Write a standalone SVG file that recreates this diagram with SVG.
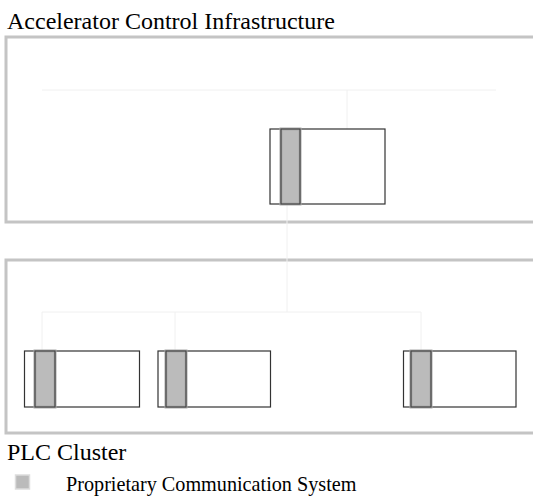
<svg xmlns="http://www.w3.org/2000/svg" width="533" height="502" viewBox="0 0 533 502">
<style>
.lbl{font-family:"Liberation Serif","Times New Roman",serif;font-size:20.2px;fill:#000}
.big{font-size:24px}
.cluster{fill:none;stroke:#c4c4c4;stroke-width:3}
.link{fill:none;stroke:#f0f0f0;stroke-width:1}
.box{fill:#fff;stroke:#333;stroke-width:1.2}
.comm{fill:#bbb;stroke:#aaa;stroke-width:3}
.commin{fill:none;stroke:#444;stroke-width:1.2}
</style>
<rect width="533" height="502" fill="#fff"/>
<g id="cluster-aci">
<rect class="cluster" x="6" y="37" width="540" height="185"/>
<text class="lbl big" x="7" y="29">Accelerator Control Infrastructure</text>
</g>
<g id="cluster-plc">
<rect class="cluster" x="6" y="260" width="540" height="173"/>
<text class="lbl big" x="7" y="460">PLC Cluster</text>
</g>
<g id="connectors">
<path class="link" d="M42,90H496M347,90V129"/>
<path class="link" d="M287,204V312M42,312H421M42,312V351M175,312V351M421,312V351"/>
</g>
<g id="node-top">
<rect class="box" x="270" y="129" width="115" height="75"/>
<rect class="comm" x="281" y="129" width="19" height="75"/>
<rect class="commin" x="281" y="129" width="19" height="75"/>
</g>
<g id="node-a">
<rect class="box" x="24.5" y="351" width="115" height="56"/>
<rect class="comm" x="35" y="351" width="20" height="56"/>
<rect class="commin" x="35" y="351" width="20" height="56"/>
</g>
<g id="node-b">
<rect class="box" x="158" y="351" width="112.5" height="56"/>
<rect class="comm" x="166" y="351" width="20" height="56"/>
<rect class="commin" x="166" y="351" width="20" height="56"/>
</g>
<g id="node-c">
<rect class="box" x="403.5" y="351" width="112.5" height="56"/>
<rect class="comm" x="411" y="351" width="20" height="56"/>
<rect class="commin" x="411" y="351" width="20" height="56"/>
</g>
<g id="legend">
<rect x="15.5" y="475" width="14" height="14" fill="#bbb" stroke="#ddd" stroke-width="1.5"/>
<text class="lbl" x="66" y="491">Proprietary Communication System</text>
</g>
</svg>
